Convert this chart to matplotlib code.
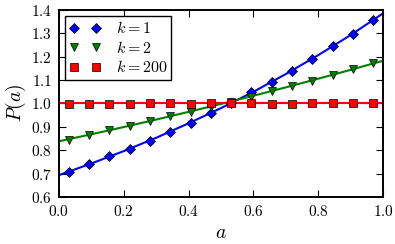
import numpy as np
import matplotlib
matplotlib.use("Agg")
import matplotlib.pyplot as plt
from matplotlib.ticker import FuncFormatter, MultipleLocator

plt.rcParams['font.family'] = 'serif'
plt.rcParams['mathtext.fontset'] = 'cm'

# smooth curves, read at a = 0, 0.1, ..., 1.0
a_line = [0.0, 0.1, 0.2, 0.3, 0.4, 0.5, 0.6, 0.7, 0.8, 0.9, 1.0]
line_k1 = [0.693, 0.743, 0.796, 0.853, 0.915, 0.980, 1.050, 1.126, 1.207, 1.293, 1.386]
line_k2 = [0.838, 0.868, 0.899, 0.931, 0.964, 0.998, 1.033, 1.069, 1.106, 1.144, 1.183]
line_k200 = [1.0, 1.0, 1.0, 1.0, 1.0, 1.0, 1.0, 1.0, 1.0, 1.0, 1.0]

# sampled points
a_pts = [0.031, 0.094, 0.156, 0.219, 0.281, 0.344, 0.406, 0.469,
         0.531, 0.594, 0.656, 0.719, 0.781, 0.844, 0.906, 0.969]
pts_k1 = [0.706, 0.740, 0.773, 0.805, 0.841, 0.878, 0.915, 0.958,
          1.002, 1.048, 1.093, 1.140, 1.192, 1.245, 1.299, 1.356]
pts_k2 = [0.845, 0.865, 0.885, 0.905, 0.925, 0.945, 0.965, 0.986,
          1.005, 1.029, 1.055, 1.075, 1.098, 1.122, 1.146, 1.175]
pts_k200 = [0.998, 0.998, 0.999, 0.999, 1.001, 1.000, 0.999, 1.001,
            1.000, 1.000, 0.999, 0.998, 1.000, 1.001, 1.001, 1.004]

fig = plt.figure(figsize=(3.95, 2.44), dpi=100)
ax = fig.add_axes([0.149, 0.193, 0.821, 0.766])

ax.plot(a_line, line_k1, color='b', lw=1.5, zorder=2)
ax.plot(a_line, line_k2, color='g', lw=1.5, zorder=2)
ax.plot(a_line, line_k200, color='r', lw=1.5, zorder=2)

ax.plot(a_pts, pts_k1, 'D', color='b', mec='k', mew=0.5, ms=5.5, label='$k=1$', zorder=3)
ax.plot(a_pts, pts_k2, 'v', color='g', mec='k', mew=0.5, ms=5.5, label='$k=2$', zorder=3)
ax.plot(a_pts, pts_k200, 's', color='r', mec='k', mew=0.5, ms=5.5, label='$k=200$', zorder=3)

ax.set_xlim(0, 1)
ax.set_ylim(0.6, 1.4)
ax.xaxis.set_major_locator(MultipleLocator(0.2))
ax.yaxis.set_major_locator(MultipleLocator(0.1))
fmt = FuncFormatter(lambda v, p: '$%.1f$' % v)
ax.xaxis.set_major_formatter(fmt)
ax.yaxis.set_major_formatter(fmt)
ax.tick_params(direction='in', top=True, right=True, length=5, width=0.8, labelsize=11, pad=5)
for s in ax.spines.values():
    s.set_linewidth(1.4)

ax.set_xlabel('$a$', fontsize=14)
ax.set_ylabel('$P(a)$', fontsize=14, labelpad=2)

leg = ax.legend(loc='upper left', numpoints=2, fontsize=11.5, fancybox=False,
                framealpha=1, edgecolor='k', handlelength=2, borderpad=0.25,
                labelspacing=0.15, handletextpad=0.9, borderaxespad=0.4)
leg.get_frame().set_linewidth(1.0)

fig.savefig('out.png', dpi=100)
